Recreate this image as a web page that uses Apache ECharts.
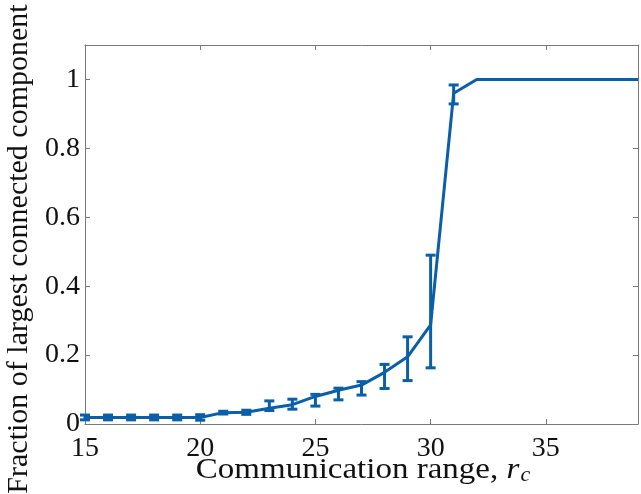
<!DOCTYPE html>
<html>
<head>
<meta charset="utf-8">
<script src="https://cdn.jsdelivr.net/npm/echarts@6/dist/echarts.min.js"></script>
<style>
  html, body { margin: 0; padding: 0; background: #fff; }
  #chart { width: 641px; height: 494px; }
</style>
</head>
<body>
<div id="chart"></div>
<script>
// Communication range r_c
const ranges = [15, 16, 17, 18, 19, 20, 21, 22, 23, 24, 25, 26, 27, 28, 29, 30, 31, 32, 33, 34, 35, 36, 37, 38, 39];
// Mean fraction of nodes in the largest connected component
const meanFraction = [0.019, 0.019, 0.019, 0.019, 0.019, 0.019, 0.033, 0.034, 0.046, 0.056, 0.080, 0.098, 0.113, 0.150, 0.195, 0.288, 0.960, 1, 1, 1, 1, 1, 1, 1, 1];
// Lower / upper ends of the error bars (null where no bar is drawn)
const lowerBound = [0.012, 0.012, 0.012, 0.012, 0.012, 0.011, 0.029, 0.028, 0.039, 0.043, 0.052, 0.070, 0.084, 0.103, 0.126, 0.163, 0.929, null, null, null, null, null, null, null, null];
const upperBound = [0.026, 0.026, 0.026, 0.026, 0.026, 0.027, 0.037, 0.040, 0.067, 0.072, 0.086, 0.104, 0.123, 0.173, 0.253, 0.490, 0.984, null, null, null, null, null, null, null, null];
// Axis tick values
const xTicks = [15, 20, 25, 30, 35];
const yTicks = [0, 0.2, 0.4, 0.6, 0.8, 1];

const BLUE = '#0b5fa8';
const AXIS = '#7a7a7a';
const FONT = '"Liberation Serif", "DejaVu Serif", serif';

const lineData = ranges.map((x, i) => [x, meanFraction[i]]);
const barData = [];
ranges.forEach((x, i) => {
  if (lowerBound[i] != null) barData.push([x, lowerBound[i], upperBound[i]]);
});

const chart = echarts.init(document.getElementById('chart'), null, { renderer: 'canvas' });

const frameAxis = {
  type: 'value',
  axisLine: { show: true, onZero: false, lineStyle: { color: AXIS, width: 1 } },
  axisTick: { show: true, inside: true, length: 5, lineStyle: { color: AXIS, width: 1 } },
  splitLine: { show: false }
};

chart.setOption({
  animation: false,
  backgroundColor: '#fff',
  grid: { left: 85, top: 45, right: -1, bottom: 70, containLabel: false },
  xAxis: [
    Object.assign({}, frameAxis, {
      position: 'bottom', min: 15, max: 39, interval: 5,
      axisLabel: {
        show: true, margin: 11, color: '#111', fontFamily: FONT, fontSize: 28,
        formatter: v => (xTicks.indexOf(v) >= 0 ? String(v) : '')
      }
    }),
    Object.assign({}, frameAxis, {
      position: 'top', min: 15, max: 39, interval: 5,
      axisLabel: { show: false }
    })
  ],
  yAxis: [
    Object.assign({}, frameAxis, {
      position: 'left', min: 0, max: 1.1, interval: 0.2,
      axisLabel: {
        show: true, margin: 5, color: '#111', fontFamily: FONT, fontSize: 28,
        formatter: v => {
          const t = yTicks.find(k => Math.abs(k - v) < 1e-9);
          return t === undefined ? '' : String(t);
        }
      }
    }),
    Object.assign({}, frameAxis, {
      position: 'right', min: 0, max: 1.1, interval: 0.2,
      axisLabel: { show: false }
    })
  ],
  graphic: [
    {
      type: 'text',
      x: 19, y: 249,
      rotation: Math.PI / 2,
      style: {
        text: 'Fraction of largest connected component',
        fill: '#111', font: '30px ' + FONT,
        textAlign: 'center', textVerticalAlign: 'middle'
      }
    },
    {
      type: 'text',
      x: 363, y: 470,
      scaleX: 1.1,
      style: {
        text: '{n|Communication range, }{i|r}{s|c}',
        fill: '#111', textAlign: 'center', textVerticalAlign: 'middle',
        rich: {
          n: { fontFamily: FONT, fontSize: 30, fill: '#111' },
          i: { fontFamily: FONT, fontSize: 30, fontStyle: 'italic', fill: '#111' },
          s: { fontFamily: FONT, fontSize: 20, fontStyle: 'italic', fill: '#111', padding: [12, 0, 0, 1] }
        }
      }
    }
  ],
  series: [
    {
      type: 'line',
      xAxisIndex: 0, yAxisIndex: 0,
      data: lineData,
      showSymbol: false,
      symbol: 'none',
      lineStyle: { color: BLUE, width: 3 },
      z: 3
    },
    {
      type: 'custom',
      xAxisIndex: 0, yAxisIndex: 0,
      data: barData,
      encode: { x: 0, y: [1, 2] },
      renderItem: (params, api) => {
        const x = api.value(0);
        const lo = api.coord([x, api.value(1)]);
        const hi = api.coord([x, api.value(2)]);
        const half = 5;
        const style = { stroke: BLUE, lineWidth: 3, fill: 'none' };
        return {
          type: 'group',
          children: [
            { type: 'line', shape: { x1: lo[0], y1: lo[1], x2: hi[0], y2: hi[1] }, style },
            { type: 'line', shape: { x1: lo[0] - half, y1: lo[1], x2: lo[0] + half, y2: lo[1] }, style },
            { type: 'line', shape: { x1: hi[0] - half, y1: hi[1], x2: hi[0] + half, y2: hi[1] }, style }
          ]
        };
      },
      z: 4
    }
  ]
});
</script>
</body>
</html>
